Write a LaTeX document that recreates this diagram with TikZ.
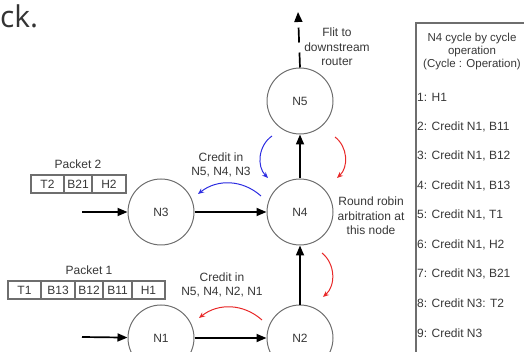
\documentclass[tikz,border=0pt]{standalone}
\usepackage{fontspec}
\setmainfont{Liberation Sans}
\newfontfamily\pagefont{Open Sans}
\usetikzlibrary{arrows.meta, positioning}
\definecolor{txtgray}{RGB}{55,55,55}
\definecolor{linegray}{RGB}{110,110,110}
\definecolor{creditblue}{RGB}{45,45,225}
\definecolor{creditred}{RGB}{232,40,40}

\begin{document}
\begin{tikzpicture}[x=1pt, y=-1pt,
        router/.style={circle, draw=linegray, line width=1pt, minimum size=66pt,
                       inner sep=0pt, font=\fontsize{12}{14}\selectfont, text=txtgray},
        cell/.style={rectangle, draw=linegray, line width=1.1pt, minimum height=18pt,
                     inner sep=0pt, outer sep=0pt, font=\fontsize{12}{14}\selectfont, text=txtgray},
        lbl/.style={font=\fontsize{12}{14.5}\selectfont, text=txtgray, align=center, inner sep=0pt},
        link/.style={-{Triangle[length=10pt, width=8pt]}, line width=1.7pt},
        credit/.style={-{Stealth[length=6pt, width=5pt]}, line width=1pt}
    ]
        \useasboundingbox (0,0) rectangle (524,352);

        \node[font=\pagefont\fontsize{30}{32}\selectfont, text=black!80, anchor=west, inner sep=0pt] (frag) at (0,16) {ck.};

        % Routers
        \node[router] (N3) at (161,212) {N3};
        \node[router, right=72pt of N3] (N4) {N4};
        \node[router, above=44pt of N4] (N5) {N5};
        \node[router, below=59pt of N3] (N1) {N1};
        \node[router, right=72pt of N1] (N2) {N2};

        \coordinate (in3) at (82,212);
        \coordinate (in1) at (82,337);
        \coordinate (out) at (298,12);

        \draw[link] (in3) -- (N3);
        \draw[link] (in1) -- (N1);
        \draw[link] (N3) -- (N4);
        \draw[link] (N1) -- (N2);
        \draw[link] (N2) -- (N4);
        \draw[link] (N4) -- (N5);
        \draw[link, dash pattern=on 15pt off 10pt] (N5.north) -- (out);

        % Packets
        \node[cell, minimum width=33pt, anchor=west] (p2t) at (31,184) {T2};
        \node[cell, minimum width=28pt, right=0pt of p2t] (p2b) {B21};
        \node[cell, minimum width=34pt, right=0pt of p2b] (p2h) {H2};
        \node[lbl, above=6pt of p2b] (pk2) {Packet 2};

        \node[cell, minimum width=33pt, anchor=west] (p1t) at (8,290) {T1};
        \node[cell, minimum width=34pt, right=0pt of p1t] (p1b3) {B13};
        \node[cell, minimum width=28pt, right=0pt of p1b3] (p1b2) {B12};
        \node[cell, minimum width=29pt, right=0pt of p1b2] (p1b1) {B11};
        \node[cell, minimum width=33pt, right=0pt of p1b1] (p1h) {H1};
        \node[lbl, above=6pt of p1b2] (pk1) {Packet 1};

        % Credits
        \coordinate (c43s) at (261,196); \coordinate (c43e) at (198,194);
        \coordinate (c21s) at (262,320); \coordinate (c21e) at (199,318);
        \coordinate (c54l) at (272,136); \coordinate (c54le) at (268,178);
        \coordinate (c54r) at (335,137); \coordinate (c54re) at (337,178);
        \coordinate (c42r) at (322,253); \coordinate (c42re) at (323,297);

        \draw[credit, creditblue] (c43s) to[bend right=40] (c43e);
        \draw[credit, creditred] (c21s) to[bend right=40] (c21e);
        \draw[credit, creditblue] (c54l) to[bend right=50] (c54le);
        \draw[credit, creditred] (c54r) to[bend left=50] (c54re);
        \draw[credit, creditred] (c42r) to[bend left=50] (c42re);

        \node[lbl] (cr3) at (221,165) {Credit in\\N5, N4, N3};
        \node[lbl] (cr1) at (222,285) {Credit in\\N5, N4, N2, N1};
        \node[lbl, right=4pt of N4, yshift=-4pt] (rr) {Round robin\\arbitration at\\this node};
        \node[lbl] (flit) at (337,47) {Flit to\\downstream\\router};

        % Cycle table
        \draw[linegray, line width=1.5pt] (416,352) -- (416,23) -- (524,23);
        \node[lbl, font=\fontsize{11.5}{13}\selectfont] (head) at (472,52) {N4 cycle by cycle\\operation\\(Cycle : Operation)};
        \foreach \op [count=\i] in {{H1}, {Credit N1, B11}, {Credit N1, B12}, {Credit N1, B13},
                {Credit N1, T1}, {Credit N1, H2}, {Credit N3, B21}, {Credit  N3: T2}, {Credit N3}}
            \node[lbl, anchor=west] (op\i) at (417,{97+(\i-1)*29.5}) {\i: \op};
    \end{tikzpicture}
\end{document}
